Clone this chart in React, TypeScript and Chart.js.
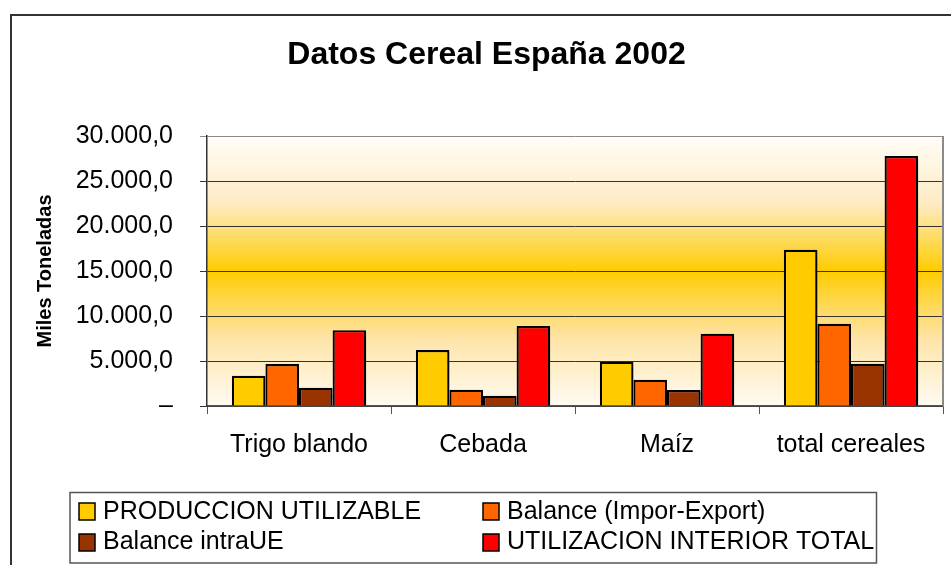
import React, { useEffect, useRef } from 'react';
import { Chart, registerables } from 'chart.js';

Chart.register(...registerables);

const categories = ['Trigo blando', 'Cebada', 'Maíz', 'total cereales'];
const produccionUtilizable = [3360, 6210, 4920, 17350];
const balanceImporExport = [4660, 1810, 2920, 9130];
const balanceIntraUE = [2030, 1140, 1780, 4700];
const utilizacionInteriorTotal = [8430, 8880, 8030, 27780];
const seriesLabels = [
  'PRODUCCION UTILIZABLE',
  'Balance (Impor-Export)',
  'Balance intraUE',
  'UTILIZACION INTERIOR TOTAL',
];
const seriesColors = ['#FFCC00', '#FF6600', '#993300', '#FF0000'];
const yMin = 0;
const yMax = 30000;
const yStep = 5000;
const titleText = 'Datos Cereal España 2002';
const yAxisTitle = 'Miles Toneladas';

const FONT = '"Liberation Sans", Arial, Helvetica, sans-serif';

function formatTick(v: number): string {
  if (v === 0) return '–';
  const s = Math.round(v)
    .toString()
    .replace(/\B(?=(\d{3})+(?!\d))/g, '.');
  return s + ',0';
}

const backgroundPlugin = {
  id: 'bgFrame',
  beforeDraw(chart: any) {
    const { ctx, chartArea } = chart;
    ctx.save();
    ctx.fillStyle = '#ffffff';
    ctx.fillRect(0, 0, chart.width, chart.height);
    // outer frame
    ctx.strokeStyle = '#333333';
    ctx.lineWidth = 2;
    ctx.strokeRect(11, 15, chart.width + 20, chart.height + 20);
    // plot gradient
    const g = ctx.createLinearGradient(0, chartArea.top, 0, chartArea.bottom);
    g.addColorStop(0, '#FFFDF8');
    g.addColorStop(0.25, '#FEEBC4');
    g.addColorStop(0.5, '#FFCC00');
    g.addColorStop(0.75, '#FEE4A8');
    g.addColorStop(1, '#FFFBF2');
    ctx.fillStyle = g;
    ctx.fillRect(chartArea.left, chartArea.top, chartArea.right - chartArea.left, chartArea.bottom - chartArea.top);
    ctx.restore();
  },
  beforeDatasetsDraw(chart: any) {
    const { ctx, chartArea } = chart;
    ctx.save();
    ctx.strokeStyle = '#8a8a8a';
    ctx.lineWidth = 2;
    ctx.beginPath();
    ctx.moveTo(chartArea.right, chartArea.top);
    ctx.lineTo(chartArea.right, chartArea.bottom);
    ctx.stroke();
    ctx.restore();
    ctx.save();
    ctx.shadowColor = 'rgba(0,0,0,0.28)';
    ctx.shadowOffsetX = 3;
    ctx.shadowOffsetY = 2;
    ctx.shadowBlur = 1;
  },
  afterDatasetsDraw(chart: any) {
    chart.ctx.restore();
  },
  afterDraw(chart: any) {
    const { ctx } = chart;
    ctx.save();
    // legend box
    ctx.strokeStyle = '#555555';
    ctx.lineWidth = 1.5;
    ctx.strokeRect(70, 492.5, 806.5, 70.5);
    const cols = [79, 483];
    const rows = [503, 534];
    const baselines = [519, 549];
    ctx.font = `25px ${FONT}`;
    ctx.textBaseline = 'alphabetic';
    ctx.textAlign = 'left';
    chart.data.datasets.forEach((ds: any, i: number) => {
      const c = i % 2;
      const r = Math.floor(i / 2);
      const x = cols[c];
      const y = rows[r];
      ctx.fillStyle = ds.backgroundColor;
      ctx.fillRect(x, y, 16, 17);
      ctx.strokeStyle = '#000';
      ctx.lineWidth = 1.5;
      ctx.strokeRect(x, y, 16, 17);
      ctx.fillStyle = '#000';
      ctx.fillText(ds.label, x + 24, baselines[r]);
    });
    ctx.restore();
  },
};

export default function App() {
  const ref = useRef<HTMLCanvasElement | null>(null);
  useEffect(() => {
    if (!ref.current) return;
    Chart.defaults.font.family = FONT;
    const datasetsValues = [produccionUtilizable, balanceImporExport, balanceIntraUE, utilizacionInteriorTotal];
    const chart = new Chart(ref.current, {
      type: 'bar',
      data: {
        labels: categories,
        datasets: datasetsValues.map((vals, i) => ({
          label: seriesLabels[i],
          data: vals,
          backgroundColor: seriesColors[i],
          borderColor: '#000000',
          borderWidth: 2.2,
          barPercentage: 1,
          categoryPercentage: 0.73,
        })),
      },
      options: {
        animation: false,
        responsive: false,
        devicePixelRatio: 1,
        layout: { padding: { left: 30, right: 8, top: 0, bottom: 0 } },
        plugins: {
          legend: { display: false },
          tooltip: { enabled: false },
          title: {
            display: true,
            text: titleText,
            color: '#000',
            font: { size: 32, weight: 'bold', family: FONT },
            padding: { top: 36, bottom: 61.6 },
          },
        },
        scales: {
          x: {
            offset: true,
            grid: {
              display: true,
              drawOnChartArea: false,
              drawTicks: true,
              tickLength: 8,
              color: '#555',
              offset: true,
            },
            border: { color: '#555', width: 1.5 },
            ticks: {
              color: '#000',
              font: { size: 25, family: FONT },
              padding: 16,
              maxRotation: 0,
              autoSkip: false,
            },
            afterFit: (s: any) => {
              s.height = 159;
            },
          },
          y: {
            min: yMin,
            max: yMax,
            ticks: {
              stepSize: yStep,
              callback: (v: any) => formatTick(Number(v)),
              color: '#000',
              font: { size: 25, family: FONT },
              padding: 27,
            },
            grid: {
              color: (c: any) => (c.tick && c.tick.value === yMax ? '#8a8a8a' : '#333'),
              lineWidth: 1,
              tickLength: 7,
            },
            border: { color: '#333', width: 1.5 },
            title: {
              display: true,
              text: yAxisTitle,
              color: '#000',
              font: { size: 20, weight: 'bold', family: FONT },
              padding: { top: 3, bottom: 0 },
            },
            afterFit: (s: any) => {
              s.width = 177;
            },
          },
        },
      },
      plugins: [backgroundPlugin],
    } as any);
    return () => chart.destroy();
  }, []);
  return (
    <div style={{ position: 'fixed', left: 0, top: 0, width: 951, height: 565, background: '#fff' }}>
      <canvas ref={ref} width={951} height={565} style={{ display: 'block', width: 951, height: 565 }} />
    </div>
  );
}
